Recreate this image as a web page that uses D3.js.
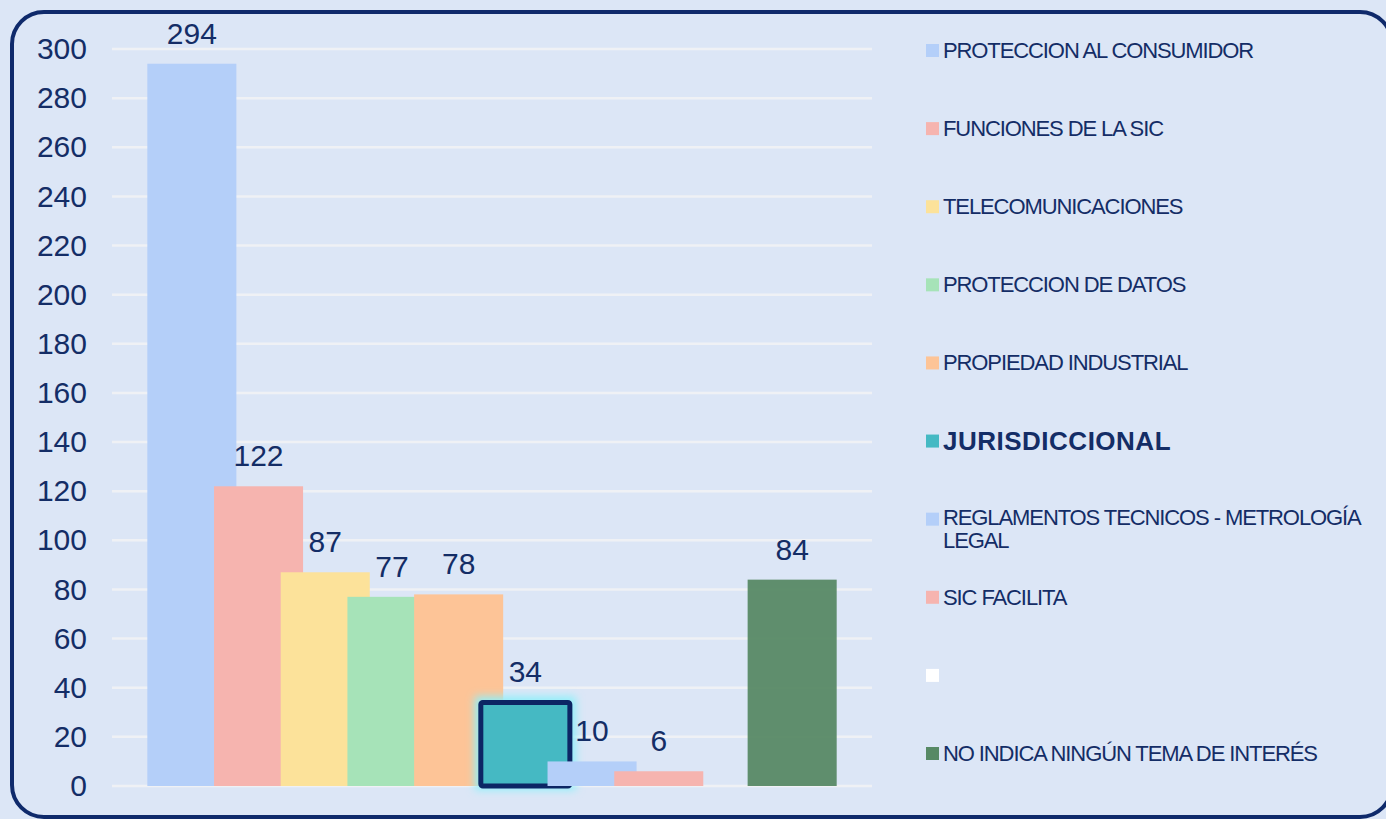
<!DOCTYPE html>
<html lang="es">
  <head>
    <meta charset="UTF-8" />
    <title>temas de interés</title>
    <script src="https://cdn.jsdelivr.net/npm/d3@7/dist/d3.min.js"></script>
    <style>
      body { margin: 0; background: #dce6f6; }
      text { font-family: "Liberation Sans", Arial, sans-serif; fill: #142d66; }
    </style>
  </head>
  <body>
    <div id="wrapper"></div>
    <script>
      const categories = [
        "PROTECCION AL CONSUMIDOR",
        "FUNCIONES DE LA SIC",
        "TELECOMUNICACIONES",
        "PROTECCION DE DATOS",
        "PROPIEDAD INDUSTRIAL",
        "JURISDICCIONAL",
        "REGLAMENTOS TECNICOS - METROLOGÍA|LEGAL",
        "SIC FACILITA",
        "",
        "NO INDICA NINGÚN TEMA DE INTERÉS",
      ];
      const values = [294, 122, 87, 77, 78, 34, 10, 6, null, 84];
      const yTicks = [0, 20, 40, 60, 80, 100, 120, 140, 160, 180, 200, 220, 240, 260, 280, 300];
      const colors = [
        "#b4cff9", "#f6b4af", "#fce29a", "#a6e3b8", "#fdc497",
        "#45b9c3", "#b4cff9", "#f6b4af", "#ffffff", "#578965",
      ];

      const dimensions = {
        width: 1386,
        height: 819,
        plotLeft: 112,
        plotRight: 872,
        plotTop: 49,
        plotBottom: 786,
      };

      const data = categories.map((c, i) => ({ key: i, label: c, value: values[i], color: colors[i] }));

      const svg = d3.select("#wrapper")
        .append("svg")
        .attr("width", dimensions.width)
        .attr("height", dimensions.height);

      const defs = svg.append("defs");
      defs.append("filter")
        .attr("id", "glow")
        .attr("x", "-30%").attr("y", "-30%")
        .attr("width", "160%").attr("height", "160%")
        .append("feGaussianBlur")
        .attr("stdDeviation", 4);

      // frame
      svg.append("rect")
        .attr("x", 12).attr("y", 12)
        .attr("width", 1380).attr("height", 805)
        .attr("rx", 32)
        .attr("fill", "#dce6f6")
        .attr("stroke", "#0f2a6b")
        .attr("stroke-width", 4);

      const yScale = d3.scaleLinear()
        .domain([0, 300])
        .range([dimensions.plotBottom, dimensions.plotTop]);

      const xScale = d3.scaleBand()
        .domain(data.map((d) => d.key))
        .range([dimensions.plotLeft, dimensions.plotRight])
        .paddingInner(0)
        .paddingOuter(0.697);

      const barWidth = xScale.bandwidth() * 1.335;
      const xCenter = (d) => xScale(d.key) + xScale.bandwidth() / 2;

      // gridlines
      svg.append("g")
        .selectAll("line")
        .data(yTicks)
        .join("line")
        .attr("x1", dimensions.plotLeft)
        .attr("x2", dimensions.plotRight)
        .attr("y1", (d) => yScale(d))
        .attr("y2", (d) => yScale(d))
        .attr("stroke", "#eff1f5")
        .attr("stroke-width", 2.5);

      // y axis
      const yAxis = svg.append("g")
        .attr("transform", `translate(87,0)`)
        .call(d3.axisLeft(yScale).tickValues(yTicks).tickSize(0).tickPadding(0));
      yAxis.select(".domain").remove();
      yAxis.selectAll("text")
        .attr("font-size", 30)
        .attr("fill", "#142d66")
        .style("font-family", "Liberation Sans, Arial, sans-serif");

      const bars = svg.append("g");
      data.filter((d) => d.value).forEach((d) => {
        const x = xCenter(d) - barWidth / 2;
        const y = yScale(d.value);
        const h = yScale(0) - y;
        if (d.label === "JURISDICCIONAL") {
          bars.append("rect")
            .attr("x", x - 6).attr("y", y - 6)
            .attr("width", barWidth + 12).attr("height", h + 10)
            .attr("fill", "#8ff0fa")
            .attr("filter", "url(#glow)");
          bars.append("rect")
            .attr("x", x).attr("y", y)
            .attr("width", barWidth).attr("height", h)
            .attr("rx", 2)
            .attr("fill", d.color)
            .attr("stroke", "#0c2664")
            .attr("stroke-width", 5);
        } else {
          bars.append("rect")
            .attr("x", x).attr("y", y)
            .attr("width", barWidth).attr("height", h)
            .attr("fill", d.color)
            .attr("fill-opacity", d.color === "#578965" ? 0.95 : 1);
        }
      });

      // value labels
      svg.append("g")
        .selectAll("text")
        .data(data.filter((d) => d.value))
        .join("text")
        .attr("x", xCenter)
        .attr("y", (d) => yScale(d.value) - 20)
        .attr("text-anchor", "middle")
        .attr("font-size", 30)
        .text((d) => d.value);

      // legend
      const legendY = d3.scalePoint()
        .domain(data.map((d) => d.key))
        .range([50, 753]);

      const legend = svg.append("g")
        .selectAll("g")
        .data(data)
        .join("g")
        .attr("transform", (d) => `translate(926,${legendY(d.key)})`);

      legend.append("rect")
        .attr("x", 0).attr("y", -6)
        .attr("width", 13).attr("height", 13)
        .attr("fill", (d) => d.color);

      legend.append("text")
        .attr("x", 17)
        .attr("font-size", (d) => (d.label === "JURISDICCIONAL" ? 26 : 22))
        .attr("font-weight", (d) => (d.label === "JURISDICCIONAL" ? "bold" : "normal"))
        .attr("letter-spacing", (d) => (d.label === "JURISDICCIONAL" ? 0.5 : -1.1))
        .each(function (d) {
          const lines = d.label.split("|");
          const t = d3.select(this);
          lines.forEach((line, i) => {
            t.append("tspan")
              .attr("x", 17)
              .attr("dy", i === 0 ? (lines.length > 1 ? "0.3em" : "0.36em") : 23)
              .text(line);
          });
        });
    </script>
  </body>
</html>
